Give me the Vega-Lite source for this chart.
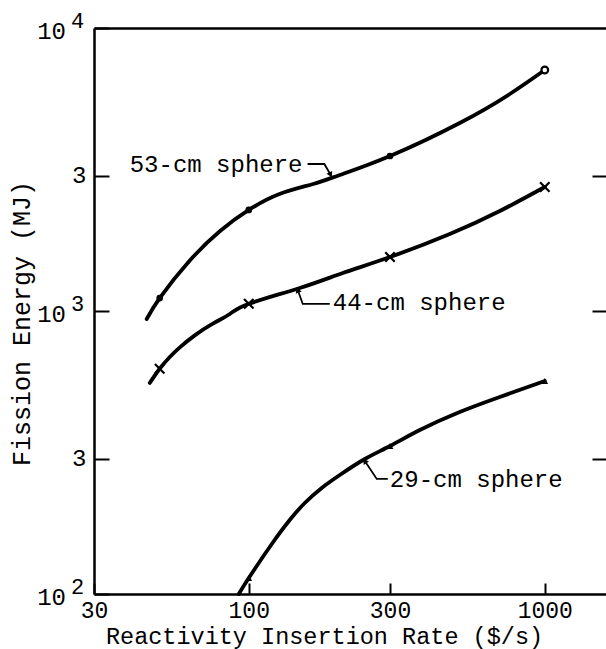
{
  "$schema": "https://vega.github.io/schema/vega-lite/v6.json",
  "width": 512,
  "height": 566,
  "autosize": {"type": "none"},
  "padding": {"left": 94, "top": 28, "right": 0, "bottom": 55},
  "background": "white",
  "config": {
    "view": {"stroke": null},
    "font": "Liberation Mono",
    "axis": {
      "grid": false,
      "domainColor": "black",
      "domainWidth": 2.5,
      "tickColor": "black",
      "tickWidth": 2,
      "labelColor": "black",
      "labelFont": "Liberation Mono",
      "labelFontSize": 23,
      "titleFont": "Liberation Mono",
      "titleFontSize": 24,
      "titleFontWeight": "normal",
      "titleColor": "black"
    }
  },
  "datasets": {
    "curves": [
      {"series": "53", "x": 45.2, "y": 937},
      {"series": "53", "x": 50, "y": 1111},
      {"series": "53", "x": 63, "y": 1502},
      {"series": "53", "x": 80, "y": 1917},
      {"series": "53", "x": 100, "y": 2275},
      {"series": "53", "x": 127, "y": 2590},
      {"series": "53", "x": 165, "y": 2810},
      {"series": "53", "x": 203, "y": 3024},
      {"series": "53", "x": 300, "y": 3529},
      {"series": "53", "x": 516, "y": 4617},
      {"series": "53", "x": 762, "y": 5846},
      {"series": "53", "x": 1000, "y": 7105},
      {"series": "44", "x": 46.3, "y": 557},
      {"series": "44", "x": 50, "y": 625},
      {"series": "44", "x": 54.1, "y": 688},
      {"series": "44", "x": 58.5, "y": 744},
      {"series": "44", "x": 65.7, "y": 820},
      {"series": "44", "x": 75.6, "y": 902},
      {"series": "44", "x": 86.3, "y": 976},
      {"series": "44", "x": 100, "y": 1060},
      {"series": "44", "x": 148.7, "y": 1206},
      {"series": "44", "x": 207.8, "y": 1362},
      {"series": "44", "x": 300, "y": 1551},
      {"series": "44", "x": 477.6, "y": 1871},
      {"series": "44", "x": 704.7, "y": 2256},
      {"series": "44", "x": 1000, "y": 2743},
      {"series": "29", "x": 92.5, "y": 100},
      {"series": "29", "x": 100, "y": 113.9},
      {"series": "29", "x": 119.6, "y": 150.2},
      {"series": "29", "x": 137.5, "y": 182.6},
      {"series": "29", "x": 154.6, "y": 209.7},
      {"series": "29", "x": 176.4, "y": 237},
      {"series": "29", "x": 203, "y": 263.3},
      {"series": "29", "x": 246.6, "y": 299.9},
      {"series": "29", "x": 300, "y": 333.4},
      {"series": "29", "x": 378.3, "y": 379.7},
      {"series": "29", "x": 516, "y": 439.6},
      {"series": "29", "x": 704.7, "y": 496.7},
      {"series": "29", "x": 1000, "y": 565.8}
    ],
    "markers": [
      {"kind": "dot", "x": 50, "y": 1111},
      {"kind": "dot", "x": 100, "y": 2275},
      {"kind": "dot", "x": 300, "y": 3529},
      {"kind": "ring", "x": 1000, "y": 7105},
      {"kind": "x", "x": 50, "y": 625},
      {"kind": "x", "x": 100, "y": 1060},
      {"kind": "x", "x": 300, "y": 1551},
      {"kind": "x", "x": 1000, "y": 2743},
      {"kind": "tri", "x": 100, "y": 113.9},
      {"kind": "tri", "x": 300, "y": 333.4},
      {"kind": "tri", "x": 1000, "y": 565.8}
    ],
    "leaders": [
      {"series": "53", "k": 1, "x": 158, "y": 3307},
      {"series": "53", "k": 2, "x": 180, "y": 3307},
      {"series": "53", "k": 3, "x": 189, "y": 3030},
      {"series": "44", "k": 1, "x": 187.7, "y": 1059},
      {"series": "44", "k": 2, "x": 152.2, "y": 1059},
      {"series": "44", "k": 3, "x": 146.4, "y": 1186},
      {"series": "29", "k": 1, "x": 294.9, "y": 255},
      {"series": "29", "k": 2, "x": 270.6, "y": 255},
      {"series": "29", "k": 3, "x": 246.6, "y": 295}
    ],
    "tips": [
      {"series": "53", "x": 189, "y": 3030},
      {"series": "44", "x": 146.4, "y": 1186},
      {"series": "29", "x": 246.6, "y": 295}
    ],
    "labels": [
      {"text": "53-cm sphere", "x": 39.6, "y": 3099},
      {"text": "44-cm sphere", "x": 192.2, "y": 1008},
      {"text": "29-cm sphere", "x": 299.6, "y": 239}
    ],
    "powers": [
      {"y": 10000, "b": "10", "e": "4"},
      {"y": 1000, "b": "10", "e": "3"},
      {"y": 100, "b": "10", "e": "2"}
    ]
  },
  "layer": [
    {
      "data": {"name": "curves"},
      "mark": {"type": "line", "interpolate": "natural", "stroke": "black", "strokeWidth": 3.8, "strokeCap": "round"},
      "encoding": {
        "x": {
          "field": "x", "type": "quantitative",
          "scale": {"type": "log", "domain": [30, 1610], "nice": false},
          "axis": {
            "orient": "bottom",
            "values": [30, 100, 300, 1000],
            "format": "d",
            "tickSize": -11,
            "labelPadding": 16,
            "labelFlush": false,
            "labelOverlap": false,
            "title": "Reactivity Insertion Rate ($/s)",
            "titleFontSize": 23.5,
            "titleX": 230,
            "titleY": 49,
            "titleAlign": "center",
            "titleAnchor": null,
            "titleBaseline": "alphabetic"
          }
        },
        "y": {
          "field": "y", "type": "quantitative",
          "scale": {"type": "log", "domain": [100, 10000], "nice": false},
          "axis": {
            "orient": "left",
            "values": [100, 300, 1000, 3000, 10000],
            "labelExpr": "datum.value == 300 || datum.value == 3000 ? '3' : ''",
            "labelFontSize": 24,
            "tickSize": -15,
            "labelPadding": 23,
            "labelFlush": false,
            "labelOverlap": false,
            "labelBaseline": "middle",
            "title": "Fission Energy (MJ)",
            "titleFontSize": 25,
            "titleX": -73,
            "titleY": 295,
            "titleAngle": -90,
            "titleAlign": "center",
            "titleBaseline": "middle"
          }
        },
        "detail": {"field": "series", "type": "nominal"}
      }
    },
    {
      "data": {"name": "markers"},
      "transform": [{"filter": "datum.kind == 'dot'"}],
      "mark": {"type": "point", "shape": "circle", "filled": true, "color": "black", "size": 45, "opacity": 1},
      "encoding": {
        "x": {
          "field": "x", "type": "quantitative",
          "scale": {"type": "log", "domain": [30, 1610], "nice": false},
          "axis": {"orient": "top", "labels": false, "ticks": false, "title": null, "domain": true}
        },
        "y": {
          "field": "y", "type": "quantitative",
          "scale": {"type": "log", "domain": [100, 10000], "nice": false},
          "axis": {"orient": "right", "labels": false, "domain": false, "title": null, "values": [300, 1000, 3000], "tickSize": -14}
        }
      }
    },
    {
      "data": {"name": "markers"},
      "transform": [{"filter": "datum.kind == 'ring'"}],
      "mark": {"type": "point", "shape": "circle", "filled": false, "fill": "white", "stroke": "black", "strokeWidth": 2.2, "size": 45, "opacity": 1},
      "encoding": {
        "x": {"field": "x", "type": "quantitative", "scale": {"type": "log", "domain": [30, 1610], "nice": false}, "axis": null},
        "y": {"field": "y", "type": "quantitative", "scale": {"type": "log", "domain": [100, 10000], "nice": false}, "axis": null}
      }
    },
    {
      "data": {"name": "markers"},
      "transform": [{"filter": "datum.kind == 'x'"}],
      "mark": {"type": "point", "shape": "M-1,-1L1,1M1,-1L-1,1", "filled": false, "stroke": "black", "strokeWidth": 2.2, "size": 90, "opacity": 1},
      "encoding": {
        "x": {"field": "x", "type": "quantitative", "scale": {"type": "log", "domain": [30, 1610], "nice": false}, "axis": null},
        "y": {"field": "y", "type": "quantitative", "scale": {"type": "log", "domain": [100, 10000], "nice": false}, "axis": null}
      }
    },
    {
      "data": {"name": "markers"},
      "transform": [{"filter": "datum.kind == 'tri'"}],
      "mark": {"type": "point", "shape": "triangle-up", "filled": true, "color": "black", "size": 45, "opacity": 1},
      "encoding": {
        "x": {"field": "x", "type": "quantitative", "scale": {"type": "log", "domain": [30, 1610], "nice": false}, "axis": null},
        "y": {"field": "y", "type": "quantitative", "scale": {"type": "log", "domain": [100, 10000], "nice": false}, "axis": null}
      }
    },
    {
      "data": {"name": "leaders"},
      "mark": {"type": "line", "stroke": "black", "strokeWidth": 1.8},
      "encoding": {
        "x": {"field": "x", "type": "quantitative", "scale": {"type": "log", "domain": [30, 1610], "nice": false}, "axis": null},
        "y": {"field": "y", "type": "quantitative", "scale": {"type": "log", "domain": [100, 10000], "nice": false}, "axis": null},
        "detail": {"field": "series", "type": "nominal"},
        "order": {"field": "k", "type": "quantitative"}
      }
    },
    {
      "data": {"name": "tips"},
      "transform": [{"filter": "datum.series == '53'"}],
      "mark": {"type": "point", "shape": "triangle-up", "filled": true, "color": "black", "size": 40, "angle": 153, "opacity": 1},
      "encoding": {
        "x": {"field": "x", "type": "quantitative", "scale": {"type": "log", "domain": [30, 1610], "nice": false}, "axis": null},
        "y": {"field": "y", "type": "quantitative", "scale": {"type": "log", "domain": [100, 10000], "nice": false}, "axis": null}
      }
    },
    {
      "data": {"name": "tips"},
      "transform": [{"filter": "datum.series == '44'"}],
      "mark": {"type": "point", "shape": "triangle-up", "filled": true, "color": "black", "size": 40, "angle": -20, "opacity": 1},
      "encoding": {
        "x": {"field": "x", "type": "quantitative", "scale": {"type": "log", "domain": [30, 1610], "nice": false}, "axis": null},
        "y": {"field": "y", "type": "quantitative", "scale": {"type": "log", "domain": [100, 10000], "nice": false}, "axis": null}
      }
    },
    {
      "data": {"name": "tips"},
      "transform": [{"filter": "datum.series == '29'"}],
      "mark": {"type": "point", "shape": "triangle-up", "filled": true, "color": "black", "size": 40, "angle": -34, "opacity": 1},
      "encoding": {
        "x": {"field": "x", "type": "quantitative", "scale": {"type": "log", "domain": [30, 1610], "nice": false}, "axis": null},
        "y": {"field": "y", "type": "quantitative", "scale": {"type": "log", "domain": [100, 10000], "nice": false}, "axis": null}
      }
    },
    {
      "data": {"name": "labels"},
      "mark": {"type": "text", "align": "left", "baseline": "alphabetic", "font": "Liberation Mono", "fontSize": 24, "color": "black"},
      "encoding": {
        "x": {"field": "x", "type": "quantitative", "scale": {"type": "log", "domain": [30, 1610], "nice": false}, "axis": null},
        "y": {"field": "y", "type": "quantitative", "scale": {"type": "log", "domain": [100, 10000], "nice": false}, "axis": null},
        "text": {"field": "text", "type": "nominal"}
      }
    },
    {
      "data": {"name": "powers"},
      "mark": {"type": "text", "align": "right", "baseline": "alphabetic", "font": "Liberation Mono", "fontSize": 24, "color": "black", "dx": -28, "dy": 11},
      "encoding": {
        "x": {"datum": 30, "type": "quantitative", "scale": {"type": "log", "domain": [30, 1610], "nice": false}, "axis": null},
        "y": {"field": "y", "type": "quantitative", "scale": {"type": "log", "domain": [100, 10000], "nice": false}, "axis": null},
        "text": {"field": "b", "type": "nominal"}
      }
    },
    {
      "data": {"name": "powers"},
      "mark": {"type": "text", "align": "left", "baseline": "alphabetic", "font": "Liberation Mono", "fontSize": 22, "color": "black", "dx": -23, "dy": 0},
      "encoding": {
        "x": {"datum": 30, "type": "quantitative", "scale": {"type": "log", "domain": [30, 1610], "nice": false}, "axis": null},
        "y": {"field": "y", "type": "quantitative", "scale": {"type": "log", "domain": [100, 10000], "nice": false}, "axis": null},
        "text": {"field": "e", "type": "nominal"}
      }
    }
  ],
  "resolve": {"axis": {"x": "independent", "y": "independent"}}
}
